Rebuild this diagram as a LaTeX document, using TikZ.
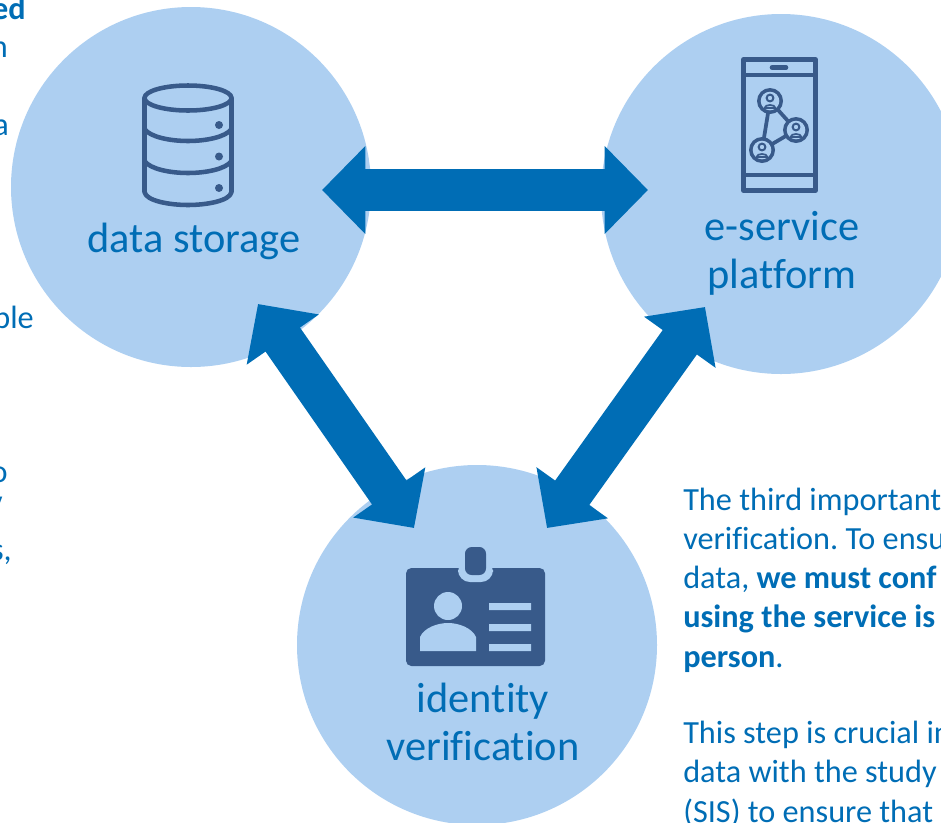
\documentclass[tikz,border=0pt]{standalone}
\usepackage{fontspec}
\setmainfont{Carlito}[Ligatures=NoCommon]
\usetikzlibrary{arrows.meta,calc}
\definecolor{blob}{RGB}{173,207,241}
\definecolor{ink}{RGB}{0,109,181}
\definecolor{icon}{RGB}{56,90,138}
\tikzset{
  hub/.style={circle,fill=blob,minimum size=270pt,inner sep=0pt},
  link/.style={ink,line width=31.5pt,{Triangle[length=32.5pt,width=64pt]}-{Triangle[length=32.5pt,width=64pt]}},
  lab/.style={ink,font=\fontsize{31.8}{36}\selectfont,align=center,anchor=base,inner sep=0pt},
  body/.style={ink,font=\fontsize{24.2}{29.3}\selectfont\frenchspacing,align=left,anchor=base west,inner sep=0pt},
  frag/.style={ink,font=\fontsize{24.2}{29.3}\selectfont,anchor=base east,inner sep=0pt},
  iconline/.style={icon,line width=3.4pt,line join=round,line cap=round},
  thin/.style={icon,line width=2.8pt},
}
\newcommand{\peep}[1]{%
  \fill[icon] (#1) circle[radius=13];
  \fill[blob] (#1) circle[radius=9.3];
  \draw[icon,fill=blob,line width=1.5pt] ($(#1)+(0,-3)$) circle[radius=3.4];
  \draw[icon,fill=blob,line width=1.3pt] ($(#1)+(-5.5,7)$) .. controls ($(#1)+(-5,3)$) and ($(#1)+(5,3)$) .. ($(#1)+(5.5,7)$) -- cycle;
}
\begin{document}
\begin{tikzpicture}[x=0.75pt,y=-0.75pt]
\useasboundingbox (0,0) rectangle (941,822);
\clip (0,0) rectangle (941,822);
% hubs
\node[hub] (ds) at (191,187) {};
\node[hub] (es) at (781,194) {};
\node[hub] (iv) at (477,645) {};
% database icon
\draw[iconline] (188,98) ellipse[x radius=43.5,y radius=12.5];
\draw[iconline] (144.5,98) -- (144.5,192) .. controls (146,201) and (170,205) .. (188,205) .. controls (206,205) and (230,201) .. (231.5,192) -- (231.5,98);
\draw[iconline] (144.5,129) .. controls (150,137) and (170,141) .. (188,141) .. controls (206,141) and (226,137) .. (231.5,129);
\draw[iconline] (144.5,161) .. controls (150,169) and (170,173) .. (188,173) .. controls (206,173) and (226,169) .. (231.5,161);
\foreach \yy in {125,156.5,188} \fill[icon] (219,\yy) circle[radius=4];
% phone icon
\draw[iconline] (743.5,59.5) rectangle (815.5,190.5);
\draw[thin] (743.5,75) -- (815.5,75) (743.5,175) -- (815.5,175);
\draw[icon,line width=3.4pt,line cap=round] (772,67.5) -- (786,67.5);
\draw[thin] (770,101) -- (762,150) -- (796,130) -- cycle;
\peep{770,101}
\peep{796,130}
\peep{762,150}
% badge icon
\fill[icon,rounded corners=4pt] (406,568) rectangle (545,666);
\fill[blob,rounded corners=9pt] (458,560) rectangle (493,582);
\fill[blob] (458,560) rectangle (493,568);
\fill[icon,rounded corners=5pt] (465,547) rectangle (486,575);
\fill[blob] (448,606) circle[radius=14];
\fill[blob] (420,651) -- (420,637) .. controls (424,628) and (437,623) .. (448,623) .. controls (459,623) and (472,628) .. (476,637) -- (476,651) -- cycle;
\fill[blob] (489,603) rectangle (531,610) (489,624) rectangle (531,631) (489,644) rectangle (531,651);
% connectors
\coordinate (a1) at ($(ds)+(131,3)$);
\coordinate (a2) at ($(es)+(-133,-4)$);
\coordinate (b1) at ($(ds)+(67,117)$);
\coordinate (b2) at ($(iv)+(-63,-117)$);
\coordinate (c1) at ($(es)+(-76,113)$);
\coordinate (c2) at ($(iv)+(70,-117)$);
\draw[link] (a1) -- (a2);
\draw[link] (b1) -- (b2);
\draw[link] (c1) -- (c2);
% labels
\node[lab] (l1) at (194,252) {data storage};
\node[lab] (l2) at (782,288.5) {e-service\\[0pt]platform};
\node[lab] (l3) at (483,760) {identity\\[0pt]verification};
% text
\node[body] (t1) at (683,667) {The third important\\verification. To ensu\\data, \textbf{we must conf}\\\textbf{using the service is}\\\textbf{person}.};
\node[body] (t2) at (683,822) {This step is crucial in\\data with the study\\(SIS) to ensure that};
\node[frag] (f1) at (26,19) {\textbf{ed}};
\node[frag] (f2) at (8,57) {n};
\node[frag] (f3) at (9,135) {a};
\node[frag] (f4) at (34,328) {ble};
\node[frag] (f5) at (8,482) {o};
\node[frag] (f6) at (3,512) {v};
\node[frag] (f7) at (12,560) {s,};
\end{tikzpicture}
\end{document}
